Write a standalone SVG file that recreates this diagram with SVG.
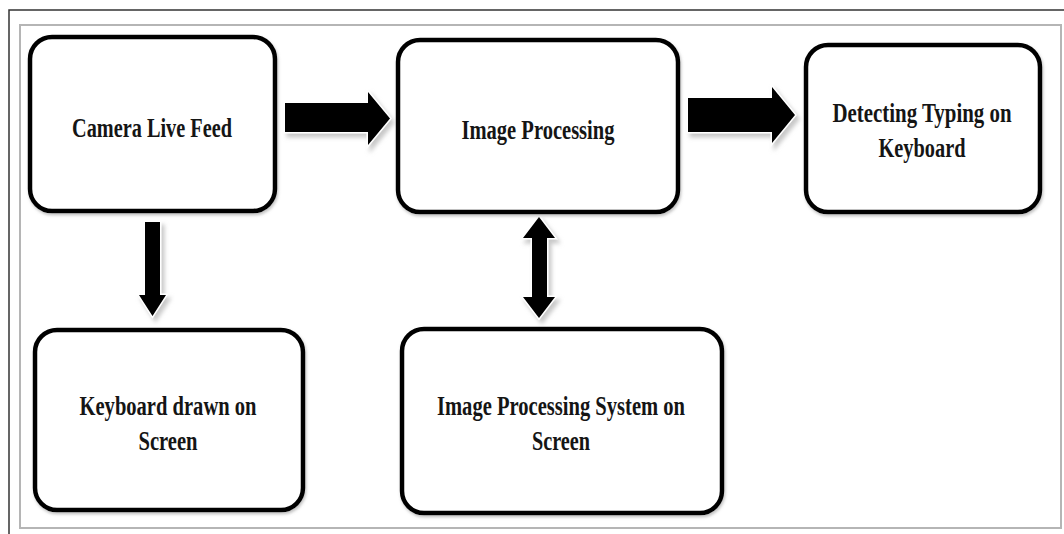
<svg xmlns="http://www.w3.org/2000/svg" width="1064" height="534" viewBox="0 0 1064 534">
  <style>
    .box { fill: #ffffff; stroke: #000000; stroke-width: 4.5; filter: url(#boxShadow); }
    .lbl { font-family: "Liberation Serif", "Times New Roman", serif; font-weight: bold; font-size: 27px; fill: #151515; text-anchor: middle; }
    .arrow { fill: #000000; stroke: #ffffff; stroke-width: 3; paint-order: stroke; stroke-linejoin: miter; filter: url(#arrowShadow); }
  </style>
  <defs>
    <filter id="boxShadow" x="-10%" y="-10%" width="120%" height="120%">
      <feDropShadow dx="1" dy="2" stdDeviation="1.5" flood-color="#808080" flood-opacity="0.5"/>
    </filter>
    <filter id="arrowShadow" x="-30%" y="-30%" width="160%" height="160%">
      <feDropShadow dx="3" dy="4" stdDeviation="2" flood-color="#b0b0b0" flood-opacity="0.7"/>
    </filter>
  </defs>
  <rect x="0" y="0" width="1064" height="534" fill="#ffffff"/>
  <g id="frame" fill="none">
    <path d="M9,534 L9,10 L1064,10" stroke="#333333" stroke-width="1.5"/>
    <rect x="20" y="25" width="1041" height="503" stroke="#b5b5b5" stroke-width="2"/>
  </g>
  <g id="connectors">
    <polygon class="arrow" points="285,103 368,103 368,92 390,118.5 368,145 368,132 285,132"/>
    <polygon class="arrow" points="688,98 772,98 772,87 795,115 772,143 772,132 688,132"/>
    <polygon class="arrow" points="145,222 160,222 160,295 166,295 152.5,316 139,295 145,295"/>
    <polygon class="arrow" points="539,217 555,238 547,238 547,297 555,297 539,318 523,297 532,297 532,238 523,238"/>
  </g>
  <g id="node-camera">
    <rect class="box" x="30" y="37" width="245" height="174" rx="22"/>
    <text class="lbl" x="152" y="137" textLength="160" lengthAdjust="spacingAndGlyphs">Camera Live Feed</text>
  </g>
  <g id="node-imageproc">
    <rect class="box" x="398" y="40" width="280" height="172" rx="22"/>
    <text class="lbl" x="538" y="139" textLength="153" lengthAdjust="spacingAndGlyphs">Image Processing</text>
  </g>
  <g id="node-detecting">
    <rect class="box" x="806" y="45" width="234" height="167" rx="22"/>
    <text class="lbl" x="922" y="122" textLength="179" lengthAdjust="spacingAndGlyphs">Detecting Typing on</text>
    <text class="lbl" x="922" y="157" textLength="87" lengthAdjust="spacingAndGlyphs">Keyboard</text>
  </g>
  <g id="node-keyboard">
    <rect class="box" x="35" y="330" width="268" height="180" rx="22"/>
    <text class="lbl" x="168" y="415" textLength="177" lengthAdjust="spacingAndGlyphs">Keyboard drawn on</text>
    <text class="lbl" x="168" y="450" textLength="59" lengthAdjust="spacingAndGlyphs">Screen</text>
  </g>
  <g id="node-ipsystem">
    <rect class="box" x="402" y="329" width="320" height="184" rx="22"/>
    <text class="lbl" x="561" y="415" textLength="248" lengthAdjust="spacingAndGlyphs">Image Processing System on</text>
    <text class="lbl" x="561" y="450" textLength="58" lengthAdjust="spacingAndGlyphs">Screen</text>
  </g>
</svg>
